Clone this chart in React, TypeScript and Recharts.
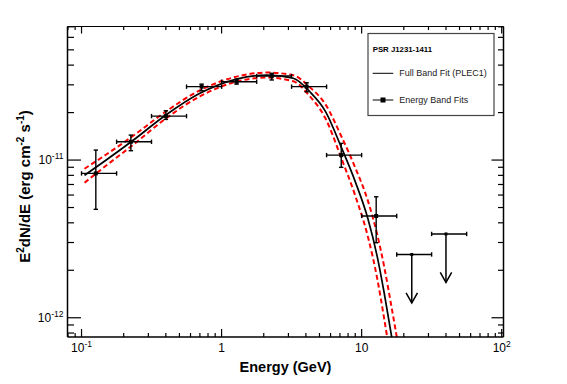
import { ComposedChart, Line, Scatter, ErrorBar, XAxis, YAxis, Customized } from "recharts"

const FONT = "'Liberation Sans', Arial, Helvetica, sans-serif"

// plot ranges: energy in GeV, E^2 dN/dE in erg cm^-2 s^-1
const X_DOMAIN = [0.0794, 103]
const Y_DOMAIN = [7.55e-13, 7.03e-11]

// full band fit (PLEC1) and its error envelope
const curveEnergy = [0.105, 0.15, 0.23, 0.4, 0.7, 1.28, 2.1, 3.25, 4.27, 5.5, 7.2, 9, 11.1, 12.9, 14.5, 16.4, 17.5, 18.5]
const fitFlux = [8.0e-12, 1.0e-11, 1.32e-11, 1.93e-11, 2.65e-11, 3.26e-11, 3.46e-11, 3.3e-11, 2.71e-11, 2.045e-11, 1.19e-11, 7.3e-12, 4.23e-12, 2.46e-12, 1.43e-12, 7.54e-13, 5.27e-13, 3.8e-13]
const fitUpper = [8.81e-12, 1.084e-11, 1.41e-11, 2.031e-11, 2.769e-11, 3.381e-11, 3.589e-11, 3.448e-11, 2.894e-11, 2.265e-11, 1.4e-11, 8.96e-12, 5.49e-12, 3.39e-12, 2.1e-12, 1.15e-12, 8.29e-13, 6.15e-13]
const fitLower = [7.18e-12, 9.23e-12, 1.236e-11, 1.834e-11, 2.536e-11, 3.143e-11, 3.336e-11, 3.158e-11, 2.537e-11, 1.846e-11, 1.015e-11, 5.95e-12, 3.25e-12, 1.785e-12, 9.81e-13, 4.94e-13, 3.35e-13, 2.35e-13]

// energy band fits
const bandEnergy = [0.1265, 0.225, 0.4, 0.72, 1.28, 2.28, 4.05, 7.15, 12.7]
const bandEmin = [0.1, 0.178, 0.316, 0.562, 1, 1.78, 3.16, 5.62, 10]
const bandEmax = [0.178, 0.316, 0.562, 1, 1.78, 3.16, 5.62, 10, 17.8]
const bandFlux = [8.23e-12, 1.306e-11, 1.9e-11, 2.92e-11, 3.14e-11, 3.41e-11, 2.92e-11, 1.075e-11, 4.42e-12]
const bandFluxLo = [4.87e-12, 1.146e-11, 1.81e-11, 2.75e-11, 3.03e-11, 3.22e-11, 2.71e-11, 8.99e-12, 2.99e-12]
const bandFluxHi = [1.157e-11, 1.44e-11, 2.054e-11, 3.03e-11, 3.26e-11, 3.55e-11, 3.09e-11, 1.276e-11, 5.85e-12]

// upper limits
const ulEnergy = [22.8, 40.0]
const ulEmin = [17.8, 31.6]
const ulEmax = [31.6, 56.2]
const ulFlux = [2.52e-12, 3.4e-12]

// tick labels
const xMajor = [0.1, 1, 10, 100]
const xMajorBase = ["10", "1", "10", "10"]
const xMajorExp = ["-1", "", "", "2"]
const yMajor = [1e-12, 1e-11]
const yMajorBase = ["10", "10"]
const yMajorExp = ["-12", "-11"]

const logTicks = (lo: number, hi: number) => {
  const out: number[] = []
  for (let p = Math.floor(Math.log10(lo)); p <= Math.ceil(Math.log10(hi)); p++) {
    for (let m = 1; m < 10; m++) {
      const v = m * Math.pow(10, p)
      if (v >= lo && v <= hi) out.push(v)
    }
  }
  return out
}
const xTicks = logTicks(X_DOMAIN[0], X_DOMAIN[1])
const yTicks = logTicks(Y_DOMAIN[0], Y_DOMAIN[1])

const majorIndex = (v: number, majors: number[]) => majors.findIndex((m) => Math.abs(v / m - 1) < 1e-6)

const fitData = curveEnergy.map((x, i) => ({ x, y: fitFlux[i] }))
const upperData = curveEnergy.map((x, i) => ({ x, y: fitUpper[i] }))
const lowerData = curveEnergy.map((x, i) => ({ x, y: fitLower[i] }))
const bandData = bandEnergy.map((x, i) => ({
  x,
  y: bandFlux[i],
  errX: [x - bandEmin[i], bandEmax[i] - x],
  errY: [bandFlux[i] - bandFluxLo[i], bandFluxHi[i] - bandFlux[i]],
}))
const ulData = ulEnergy.map((x, i) => ({ x, y: ulFlux[i], errX: [x - ulEmin[i], ulEmax[i] - x] }))

function BottomTick({ x, y, payload }: any) {
  const i = majorIndex(payload.value, xMajor)
  return (
    <g>
      <line x1={x} y1={y} x2={x} y2={y - (i >= 0 ? 8 : 4)} stroke="#000" strokeWidth={1.2} />
      {i >= 0 && (
        <text x={x} y={y + 15.3} textAnchor="middle" fontSize={12} fontFamily={FONT} fill="#000">
          {xMajorBase[i]}
          {xMajorExp[i] && (
            <tspan dy={-5} fontSize={8.5}>
              {xMajorExp[i]}
            </tspan>
          )}
        </text>
      )}
    </g>
  )
}

function TopTick({ x, y, payload }: any) {
  const i = majorIndex(payload.value, xMajor)
  return <line x1={x} y1={y} x2={x} y2={y + (i >= 0 ? 7 : 3.5)} stroke="#000" strokeWidth={1.2} />
}

function LeftTick({ x, y, payload }: any) {
  const i = majorIndex(payload.value, yMajor)
  return (
    <g>
      <line x1={x} y1={y} x2={x + (i >= 0 ? 13.5 : 6.5)} y2={y} stroke="#000" strokeWidth={1.2} />
      {i >= 0 && (
        <text x={x - 4} y={y + 4.3} textAnchor="end" fontSize={12} fontFamily={FONT} fill="#000">
          {yMajorBase[i]}
          <tspan dy={-5} fontSize={8.5}>
            {yMajorExp[i]}
          </tspan>
        </text>
      )}
    </g>
  )
}

function RightTick({ x, y, payload }: any) {
  const i = majorIndex(payload.value, yMajor)
  return <line x1={x} y1={y} x2={x - (i >= 0 ? 12 : 5.5)} y2={y} stroke="#000" strokeWidth={1.2} />
}

function BandPoint({ cx, cy }: any) {
  return <rect x={cx - 2} y={cy - 2} width={4} height={4} fill="#000" />
}

function UpperLimit({ cx, cy }: any) {
  const len = 48.5
  return (
    <g stroke="#000" strokeWidth={1.5} fill="none">
      <rect x={cx - 1.5} y={cy - 1.5} width={3} height={3} fill="#000" stroke="none" />
      <line x1={cx} y1={cy} x2={cx} y2={cy + len} />
      <polyline points={`${cx - 5.7},${cy + len - 10} ${cx},${cy + len} ${cx + 5.7},${cy + len - 10}`} />
    </g>
  )
}

function Decorations() {
  return (
    <g fontFamily={FONT} fill="#000">
      <text x={285.5} y={372} textAnchor="middle" fontSize={14.5} fontWeight="bold">
        Energy (GeV)
      </text>
      <text transform="translate(29.5,186.5) rotate(-90)" textAnchor="middle" fontSize={15} fontWeight="bold">
        E<tspan dy={-6} fontSize={10}>2</tspan>
        <tspan dy={6}>dN/dE (erg cm</tspan>
        <tspan dy={-6} fontSize={10}>-2</tspan>
        <tspan dy={6}> s</tspan>
        <tspan dy={-6} fontSize={10}>-1</tspan>
        <tspan dy={6}>)</tspan>
      </text>

      <rect x={368} y={33.5} width={126} height={82} fill="#fff" stroke="#444" strokeWidth={1.2} />
      <text x={372.7} y={52.3} fontSize={7.8} fontWeight="bold">
        PSR J1231-1411
      </text>
      <line x1={372.7} y1={73.3} x2={393.3} y2={73.3} stroke="#000" strokeWidth={1} />
      <text x={399.3} y={76.3} fontSize={9} fill="#222">
        Full Band Fit (PLEC1)
      </text>
      <line x1={372.7} y1={100} x2={393.3} y2={100} stroke="#000" strokeWidth={1} />
      <rect x={380.5} y={97.5} width={5} height={5} fill="#000" />
      <text x={399.3} y={103} fontSize={9} fill="#222">
        Energy Band Fits
      </text>
    </g>
  )
}

export default function App() {
  return (
    <div style={{ position: "absolute", left: 0, top: 0, background: "#fff" }}>
      <ComposedChart width={567} height={384} margin={{ top: 0, right: 0, bottom: 0, left: 0 }}>
        <XAxis
          xAxisId="bottom"
          dataKey="x"
          type="number"
          scale="log"
          domain={X_DOMAIN}
          allowDataOverflow
          ticks={xTicks}
          interval={0}
          height={47}
          tickSize={0}
          tickMargin={0}
          tickLine={false}
          tick={<BottomTick />}
          axisLine={{ stroke: "#000", strokeWidth: 1.5 }}
        />
        <XAxis
          xAxisId="top"
          orientation="top"
          dataKey="x"
          type="number"
          scale="log"
          domain={X_DOMAIN}
          allowDataOverflow
          ticks={xTicks}
          interval={0}
          height={26.5}
          tickSize={0}
          tickMargin={0}
          tickLine={false}
          tick={<TopTick />}
          axisLine={{ stroke: "#000", strokeWidth: 1.2 }}
        />
        <YAxis
          yAxisId="left"
          dataKey="y"
          type="number"
          scale="log"
          domain={Y_DOMAIN}
          allowDataOverflow
          ticks={yTicks}
          interval={0}
          width={67.5}
          tickSize={0}
          tickMargin={0}
          tickLine={false}
          tick={<LeftTick />}
          axisLine={{ stroke: "#000", strokeWidth: 1.5 }}
        />
        <YAxis
          yAxisId="right"
          orientation="right"
          dataKey="y"
          type="number"
          scale="log"
          domain={Y_DOMAIN}
          allowDataOverflow
          ticks={yTicks}
          interval={0}
          width={63.5}
          tickSize={0}
          tickMargin={0}
          tickLine={false}
          tick={<RightTick />}
          axisLine={{ stroke: "#000", strokeWidth: 1.5 }}
        />

        <Line
          xAxisId="bottom"
          yAxisId="left"
          data={upperData}
          dataKey="y"
          type="monotone"
          stroke="#ff0000"
          strokeWidth={2}
          strokeDasharray="5 3"
          dot={false}
          activeDot={false}
          isAnimationActive={false}
        />
        <Line
          xAxisId="bottom"
          yAxisId="left"
          data={lowerData}
          dataKey="y"
          type="monotone"
          stroke="#ff0000"
          strokeWidth={2}
          strokeDasharray="5 3"
          dot={false}
          activeDot={false}
          isAnimationActive={false}
        />
        <Line
          xAxisId="bottom"
          yAxisId="left"
          data={fitData}
          dataKey="y"
          type="monotone"
          stroke="#000"
          strokeWidth={1.7}
          dot={false}
          activeDot={false}
          isAnimationActive={false}
        />

        <Scatter
          xAxisId="bottom"
          yAxisId="left"
          data={bandData}
          dataKey="y"
          shape={<BandPoint />}
          isAnimationActive={false}
        >
          <ErrorBar dataKey="errX" direction="x" width={2.2} stroke="#000" strokeWidth={1.4} isAnimationActive={false} />
          <ErrorBar dataKey="errY" direction="y" width={2.2} stroke="#000" strokeWidth={1.4} isAnimationActive={false} />
        </Scatter>
        <Scatter
          xAxisId="bottom"
          yAxisId="left"
          data={ulData}
          dataKey="y"
          shape={<UpperLimit />}
          isAnimationActive={false}
        >
          <ErrorBar dataKey="errX" direction="x" width={2.2} stroke="#000" strokeWidth={1.4} isAnimationActive={false} />
        </Scatter>

        <Customized component={Decorations} />
      </ComposedChart>
    </div>
  )
}
